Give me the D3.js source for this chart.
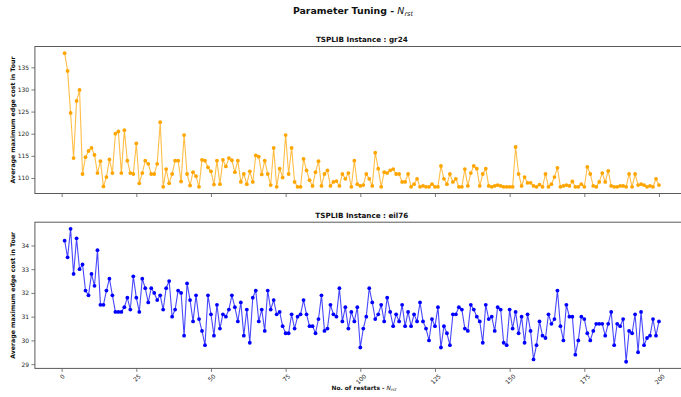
<!DOCTYPE html>
<html>
<head>
<meta charset="utf-8">
<script src="https://cdn.jsdelivr.net/npm/d3@7"></script>
<style>
  html, body { margin: 0; padding: 0; background: #fff; overflow: hidden; }
  svg { display: block; font-family: "DejaVu Sans", sans-serif; }
</style>
</head>
<body>
<svg id="chart" width="681" height="397"></svg>
<script>
// ---------- data ----------
const restarts = d3.range(1, 201);
const xTicks = [0, 25, 50, 75, 100, 125, 150, 175, 200];
const gr24Ticks = [110, 115, 120, 125, 130, 135];
const eil76Ticks = [29, 30, 31, 32, 33, 34];

const gr24 = [
  138.2,134.2,124.7,114.5,127.4,129.9,110.9,114.7,116.1,116.8,
  115.2,111.1,113.8,108.1,110.2,114.2,111.1,120.0,120.5,111.1,
  120.8,113.9,111.1,110.9,117.8,108.8,111.1,113.9,113.2,110.9,
  110.9,113.2,122.6,108.0,112.0,108.8,110.9,113.9,113.9,109.2,
  119.7,110.9,108.3,111.3,110.4,108.0,114.1,113.9,112.4,111.5,
  108.5,113.9,108.6,114.1,112.6,114.5,114.0,111.3,113.9,109.1,
  110.9,108.6,111.5,109.1,115.1,114.8,110.8,113.9,110.9,108.4,
  116.8,108.0,112.1,110.1,119.7,110.9,116.8,109.1,108.0,108.0,
  114.3,111.7,109.5,108.2,111.3,113.8,108.2,110.9,111.7,108.2,
  109.1,109.3,108.2,110.9,109.8,111.1,108.0,113.9,108.6,108.2,
  108.4,110.9,109.8,108.2,115.7,112.1,108.0,111.3,111.1,111.7,
  112.0,110.9,110.9,109.1,109.1,110.9,108.0,108.6,109.8,108.0,
  108.2,108.0,108.0,108.6,108.0,108.0,112.7,109.8,108.6,110.9,
  109.1,109.8,108.0,108.0,112.0,108.2,111.1,112.7,112.1,108.2,
  110.9,112.1,108.2,108.0,108.2,108.4,108.2,108.0,108.0,108.0,
  108.0,117.0,110.9,108.2,110.2,108.9,108.9,108.2,108.0,108.5,
  108.0,110.9,108.0,108.6,110.2,112.3,108.0,108.2,108.4,108.2,
  109.2,108.0,108.0,108.6,108.0,112.5,110.9,108.2,108.0,109.1,
  111.1,109.1,111.6,108.2,108.0,108.0,108.2,108.2,108.0,110.9,
  108.0,110.9,108.4,108.6,108.4,108.0,108.2,108.0,109.8,108.4
];

const eil76 = [
  34.2,33.5,34.7,32.8,34.3,33.0,33.2,32.1,31.9,32.8,
  32.3,33.8,31.5,31.5,32.1,32.6,31.9,31.2,31.2,31.2,
  31.4,31.8,31.3,32.7,31.8,31.2,32.6,32.2,31.6,32.2,
  32.0,31.7,31.9,31.3,32.2,32.5,31.0,31.3,32.1,32.0,
  30.2,32.4,31.7,30.8,31.9,30.9,30.4,29.8,31.9,31.1,
  30.2,31.5,30.5,31.1,31.0,31.3,31.9,31.4,30.8,31.6,
  30.2,31.3,29.9,31.8,32.1,30.8,31.3,30.4,32.1,31.3,
  31.7,31.1,31.2,30.6,30.3,30.3,31.1,30.5,31.0,31.1,
  31.7,31.1,30.6,30.6,30.3,30.9,31.9,30.4,30.5,31.5,
  31.1,31.0,32.2,30.8,31.4,30.5,31.2,30.8,31.4,29.7,
  30.5,31.0,32.2,31.6,30.9,31.1,31.5,30.8,31.8,31.2,
  30.6,31.1,30.8,31.5,30.6,31.2,30.6,31.1,30.8,31.6,
  30.8,30.5,30.0,30.9,30.6,31.4,29.7,30.6,30.3,29.8,
  31.1,31.1,31.4,31.3,30.5,30.4,31.5,31.3,31.0,30.8,
  29.9,31.5,30.9,31.0,30.4,31.4,31.3,29.9,29.8,31.3,
  30.5,31.2,30.3,31.0,29.9,31.1,30.4,29.2,29.8,30.8,
  30.2,30.1,31.1,30.7,30.9,32.1,30.6,30.0,31.5,31.0,
  31.0,29.4,30.0,31.0,30.9,30.3,30.0,30.4,30.7,30.7,
  30.7,30.2,30.7,31.2,29.8,30.7,30.6,30.9,29.1,30.4,
  30.3,31.1,29.5,31.2,29.8,30.1,30.2,30.9,30.2,30.8
];

// ---------- layout ----------
const svg = d3.select("#chart");
svg.append("rect").attr("width", 681).attr("height", 397).attr("fill", "#fff");

const axLeft = 34.9, axRight = 688.7;
const xPad = (200 - 1) * 0.05;
const x = d3.scaleLinear().domain([1 - xPad, 200 + xPad]).range([axLeft, axRight]);

const FONT = "DejaVu Sans, sans-serif";
const spineColor = "#5a5a5a";
const textColor = "#262626";

// suptitle
const sup = svg.append("text")
  .attr("x", 353).attr("y", 14)
  .attr("text-anchor", "middle")
  .attr("font-size", 9.4).attr("font-weight", "bold").attr("fill", "#111");
sup.append("tspan").text("Parameter Tuning - ");
sup.append("tspan").attr("font-style", "italic").attr("font-weight", "normal").text("N");
sup.append("tspan").attr("font-style", "italic").attr("font-weight", "normal")
  .attr("font-size", 6.6).attr("dy", 1.8).text("rst");

function panel(cfg) {
  const { data, top, bottom, color, title, yTicks, showXLabels } = cfg;
  const ext = d3.extent(data);
  const pad = (ext[1] - ext[0]) * 0.05;
  const y = d3.scaleLinear().domain([ext[0] - pad, ext[1] + pad]).range([bottom, top]);
  const g = svg.append("g");

  // title
  g.append("text")
    .attr("x", (axLeft + axRight) / 2).attr("y", top - 4.2)
    .attr("text-anchor", "middle")
    .attr("font-size", 7.2).attr("font-weight", "bold").attr("fill", "#111")
    .text(title);

  // y axis
  const yAxis = d3.axisLeft(y).tickValues(yTicks).tickSize(3.5).tickPadding(2.3)
    .tickFormat(d3.format("d"));
  const ya = g.append("g").attr("transform", `translate(${axLeft},0)`).call(yAxis);
  ya.select(".domain").remove();
  ya.selectAll(".tick line").attr("stroke", spineColor).attr("stroke-width", 0.8);
  ya.selectAll(".tick text").attr("font-size", 6).attr("font-family", FONT).attr("fill", textColor);

  // x axis
  const xAxis = d3.axisBottom(x).tickValues(xTicks).tickSize(3.5).tickFormat(showXLabels ? d3.format("d") : "");
  const xa = g.append("g").attr("transform", `translate(0,${bottom})`).call(xAxis);
  xa.select(".domain").remove();
  xa.selectAll(".tick line").attr("stroke", spineColor).attr("stroke-width", 0.8);
  if (showXLabels) {
    xa.selectAll(".tick text").each(function () {
      const t = d3.select(this);
      t.attr("font-size", 6).attr("font-family", FONT).attr("fill", textColor)
        .attr("text-anchor", "middle").attr("dy", null).attr("dominant-baseline", "central");
      const w = this.getComputedTextLength();
      const h = 5.2;
      const half = (w + h) * Math.SQRT1_2 / 2;
      const cy = 3.5 + 1.2 + half;
      t.attr("y", 0).attr("transform", `translate(0,${cy}) rotate(-45)`);
    });
  } else {
    xa.selectAll(".tick text").remove();
  }

  // spines
  g.append("rect")
    .attr("x", axLeft).attr("y", top)
    .attr("width", axRight - axLeft).attr("height", bottom - top)
    .attr("fill", "none").attr("stroke", spineColor).attr("stroke-width", 1);

  // y label
  g.append("text")
    .attr("transform", `translate(12.5,${(top + bottom) / 2}) rotate(-90)`)
    .attr("text-anchor", "middle").attr("dominant-baseline", "central")
    .attr("font-size", 6.2).attr("font-weight", "bold").attr("fill", "#111")
    .text("Average maximum edge cost in Tour");

  // line + markers
  const pts = restarts.map((r, i) => [r, data[i]]);
  g.append("path")
    .datum(pts)
    .attr("fill", "none").attr("stroke", color)
    .attr("stroke-width", 1.1).attr("stroke-opacity", 0.72)
    .attr("d", d3.line().x(d => x(d[0])).y(d => y(d[1])));
  g.append("g").selectAll("circle").data(pts).join("circle")
    .attr("cx", d => x(d[0])).attr("cy", d => y(d[1]))
    .attr("r", 1.9).attr("fill", color);
}

panel({ data: gr24, top: 46.5, bottom: 193.5, color: "#FFA500",
  title: "TSPLIB Instance : gr24", yTicks: gr24Ticks, showXLabels: false });
panel({ data: eil76, top: 222.2, bottom: 368.4, color: "#0000FF",
  title: "TSPLIB Instance : eil76", yTicks: eil76Ticks, showXLabels: true });

// x label
const xl = svg.append("text")
  .attr("x", 364).attr("y", 389.5)
  .attr("text-anchor", "middle")
  .attr("font-size", 5.9).attr("font-weight", "bold").attr("fill", "#111");
xl.append("tspan").text("No. of restarts - ");
xl.append("tspan").attr("font-style", "italic").attr("font-weight", "normal").text("N");
xl.append("tspan").attr("font-style", "italic").attr("font-weight", "normal")
  .attr("font-size", 4.2).attr("dy", 1.2).text("rst");
</script>
</body>
</html>
